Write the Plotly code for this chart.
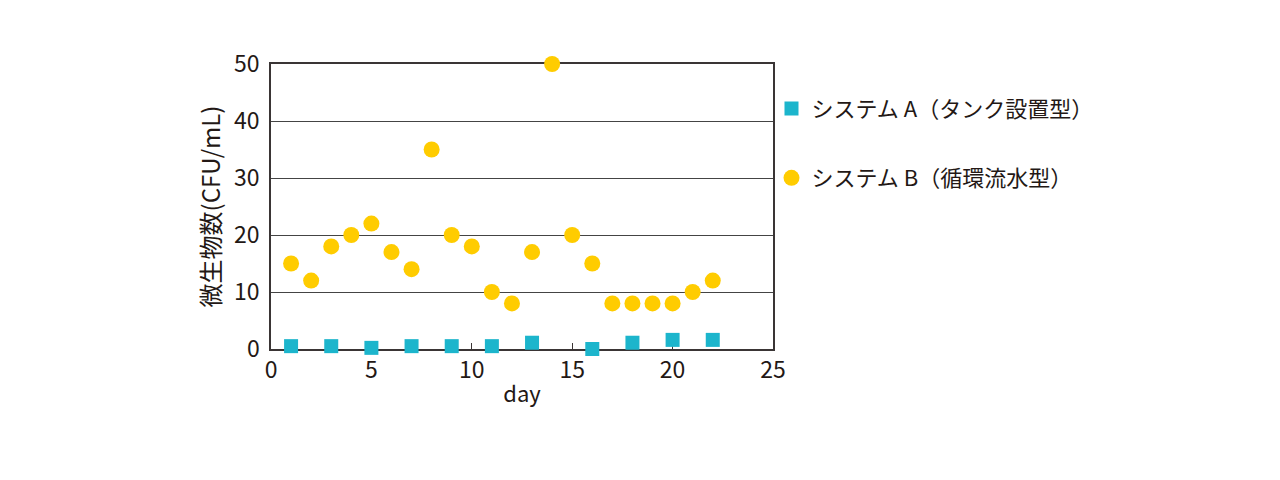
import plotly.graph_objects as go

days_a = [1, 3, 5, 7, 9, 11, 13, 16, 18, 20, 22]
vals_a = [0.5, 0.5, 0.2, 0.5, 0.5, 0.5, 1.1, 0.0, 1.1, 1.6, 1.6]

days_b = list(range(1, 23))
vals_b = [15, 12, 18, 20, 22, 17, 14, 35, 20, 18, 10, 8, 17, 50, 20, 15, 8, 8, 8, 8, 10, 12]

name_a = "システム A（タンク設置型）"
name_b = "システム B（循環流水型）"

x_ticks = [0, 5, 10, 15, 20, 25]
y_ticks = [0, 10, 20, 30, 40, 50]

FONT = "Noto Sans CJK JP"
AXC = "#3a3535"

fig = go.Figure()
fig.add_trace(go.Scatter(
    x=days_b, y=vals_b, mode="markers", name=name_b,
    marker=dict(symbol="circle", size=16, color="#FFCC00", line=dict(width=0)),
    cliponaxis=False, legend="legend2",
))
fig.add_trace(go.Scatter(
    x=days_a, y=vals_a, mode="markers", name=name_a,
    marker=dict(symbol="square", size=14, color="#1CB5CC", line=dict(width=0)),
    cliponaxis=False, legend="legend",
))

fig.update_layout(
    width=1264, height=464,
    paper_bgcolor="white", plot_bgcolor="white",
    margin=dict(l=263, r=499, t=56, b=123, autoexpand=False),
    font=dict(family=FONT, color="#231815", size=22),
    showlegend=True,
    legend=dict(x=0.997, y=0.843, xanchor="left", yanchor="middle",
                font=dict(size=22, family=FONT), bgcolor="rgba(0,0,0,0)"),
    legend2=dict(x=0.997, y=0.60, xanchor="left", yanchor="middle",
                 font=dict(size=22, family=FONT), bgcolor="rgba(0,0,0,0)"),
)

fig.update_xaxes(
    range=[0, 25], tickvals=x_ticks, ticktext=[str(v) for v in x_ticks],
    showgrid=False, zeroline=False,
    showline=True, linecolor=AXC, linewidth=1.5, mirror=True,
    ticks="inside", ticklen=6, tickwidth=1.2, tickcolor=AXC,
    tickfont=dict(size=23, family=FONT),
    title=dict(text="day", font=dict(size=22, family=FONT), standoff=2),
    layer="below traces",
)
fig.update_yaxes(
    range=[0, 50], tickvals=y_ticks, ticktext=[str(v) for v in y_ticks],
    showgrid=True, gridcolor="#444444", gridwidth=1, zeroline=False,
    showline=True, linecolor=AXC, linewidth=1.5, mirror=True,
    ticks="", tickfont=dict(size=23, family=FONT), ticklabelstandoff=5,
    title=dict(text="微生物数(CFU/mL)", font=dict(size=24, family=FONT), standoff=7),
    layer="below traces",
)

fig.write_html("out.html")
